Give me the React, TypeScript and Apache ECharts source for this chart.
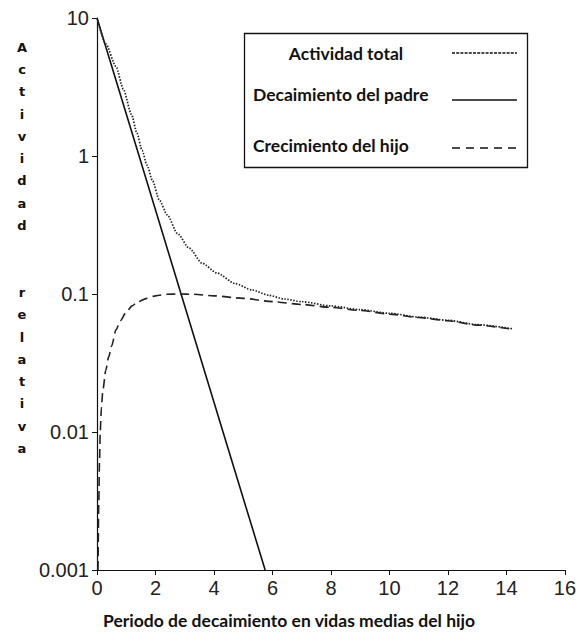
import React, { useEffect, useRef } from "react";
import * as echarts from "echarts";

const xTicks = [0, 2, 4, 6, 8, 10, 12, 14, 16];
const yTickLabels = ["0.001", "0.01", "0.1", "1", "10"];

const seriesNames = ["Actividad total", "Decaimiento del padre", "Crecimiento del hijo"];

const totalActivity: [number, number][] = [
  [0, 10], [0.3, 6.5], [0.65, 4.45], [0.9, 3.05], [1.18, 2.0], [1.36, 1.48], [1.54, 1.1],
  [1.71, 0.86], [1.9, 0.66], [2.13, 0.48], [2.4, 0.375], [2.75, 0.275], [3.15, 0.215],
  [3.6, 0.167], [4.1, 0.142], [4.73, 0.119], [5.3, 0.107], [5.87, 0.098], [6.4, 0.092],
  [7, 0.088], [8, 0.082], [9, 0.077], [10, 0.0725], [11, 0.068], [12, 0.0645], [13, 0.06],
  [14.2, 0.056],
];

const parentDecay: [number, number][] = [
  [0, 10], [1.44, 1], [2.875, 0.1], [4.31, 0.01], [5.75, 0.001],
];

const daughterGrowth: [number, number][] = [
  [0.035, 0.001], [0.06, 0.003], [0.085, 0.006], [0.11, 0.01], [0.15, 0.015], [0.2, 0.02],
  [0.3, 0.028], [0.4, 0.035], [0.5, 0.042], [0.65, 0.055], [0.8, 0.064], [1.0, 0.074],
  [1.2, 0.082], [1.4, 0.088], [1.7, 0.093], [2.0, 0.097], [2.4, 0.0995], [2.8, 0.1],
  [3.3, 0.0995], [4, 0.097], [5, 0.093], [6, 0.088], [7, 0.084], [8, 0.08], [9, 0.076],
  [10, 0.0715], [11, 0.0675], [12, 0.064], [13, 0.0595], [14.2, 0.0555],
];

const yTitleLetters = "Actividad  relativa";
const xTitle = "Periodo de decaimiento en vidas medias del hijo";

export default function App() {
  const ref = useRef<HTMLDivElement>(null);
  useEffect(() => {
    if (!ref.current) return;
    const chart = echarts.init(ref.current, undefined, { renderer: "svg" });
    const ink = "#111";
    const legendFont = { fontFamily: "Lato", fontWeight: "bold" as const, fontSize: 17.5, fill: "#111" };
    chart.setOption({
      animation: false,
      backgroundColor: "#fff",
      grid: { left: 97, right: 11, top: 18, bottom: 63 },
      xAxis: {
        type: "value",
        min: xTicks[0],
        max: xTicks[xTicks.length - 1],
        interval: 2,
        splitLine: { show: false },
        axisLine: { lineStyle: { color: ink, width: 1.2 } },
        axisTick: { show: true, length: 5, lineStyle: { color: ink } },
        axisLabel: { color: "#222", fontSize: 20, fontFamily: "Liberation Sans", margin: 8 },
      },
      yAxis: {
        type: "log",
        logBase: 10,
        min: 0.001,
        max: 10,
        splitLine: { show: false },
        axisLine: { show: true, lineStyle: { color: ink, width: 1.2 } },
        axisTick: { show: true, length: 5, lineStyle: { color: ink } },
        axisLabel: {
          color: "#222",
          fontSize: 20,
          fontFamily: "Liberation Sans",
          margin: 8,
          formatter: (v: number) => yTickLabels[Math.round(Math.log10(v)) + 3] ?? "",
        },
      },
      series: [
        {
          name: seriesNames[0],
          type: "line",
          data: totalActivity,
          showSymbol: false,
          smooth: 0.25,
          smoothMonotone: "x",
          lineStyle: { color: "#222", width: 1.7, type: [1.5, 1.5] },
          z: 3,
        },
        {
          name: seriesNames[1],
          type: "line",
          data: parentDecay,
          showSymbol: false,
          lineStyle: { color: ink, width: 1.6, type: "solid" },
          z: 2,
        },
        {
          name: seriesNames[2],
          type: "line",
          data: daughterGrowth,
          showSymbol: false,
          smooth: 0.25,
          smoothMonotone: "x",
          lineStyle: { color: "#222", width: 1.6, type: [9, 5] },
          z: 2,
        },
      ],
      graphic: [
        {
          type: "rect",
          shape: { x: 244.5, y: 33.5, width: 283, height: 134 },
          style: { fill: "#fff", stroke: ink, lineWidth: 1.3 },
          z: 10,
        },
        {
          type: "text",
          x: 346, y: 53,
          style: { ...legendFont, text: seriesNames[0], align: "center", verticalAlign: "middle" },
          z: 11,
        },
        {
          type: "text",
          x: 253, y: 94,
          style: { ...legendFont, text: seriesNames[1], align: "left", verticalAlign: "middle" },
          z: 11,
        },
        {
          type: "text",
          x: 253, y: 145,
          style: { ...legendFont, text: seriesNames[2], align: "left", verticalAlign: "middle" },
          z: 11,
        },
        {
          type: "line",
          shape: { x1: 452, y1: 53, x2: 517, y2: 53 },
          style: { stroke: ink, lineWidth: 1.6, lineDash: [3, 1.2] },
          z: 11,
        },
        {
          type: "line",
          shape: { x1: 452, y1: 100, x2: 517, y2: 100 },
          style: { stroke: ink, lineWidth: 1.6 },
          z: 11,
        },
        {
          type: "line",
          shape: { x1: 452, y1: 148, x2: 517, y2: 148 },
          style: { stroke: ink, lineWidth: 1.6, lineDash: [8, 6] },
          z: 11,
        },
        {
          type: "text",
          x: 289, y: 620,
          style: {
            text: xTitle, fontFamily: "Lato", fontWeight: "bold", fontSize: 17.5,
            fill: "#111", align: "center", verticalAlign: "middle",
          },
        },
        {
          type: "text",
          x: 22, y: 36,
          style: {
            text: yTitleLetters.split("").join("\n"),
            fontFamily: "DejaVu Sans", fontWeight: "bold", fontSize: 13, lineHeight: 22.3,
            fill: "#111", align: "center", verticalAlign: "top",
          },
        },
      ],
    });
    return () => chart.dispose();
  }, []);
  return (
    <div
      ref={ref}
      style={{ position: "absolute", left: 0, top: 0, width: 579, height: 633 }}
    />
  );
}
